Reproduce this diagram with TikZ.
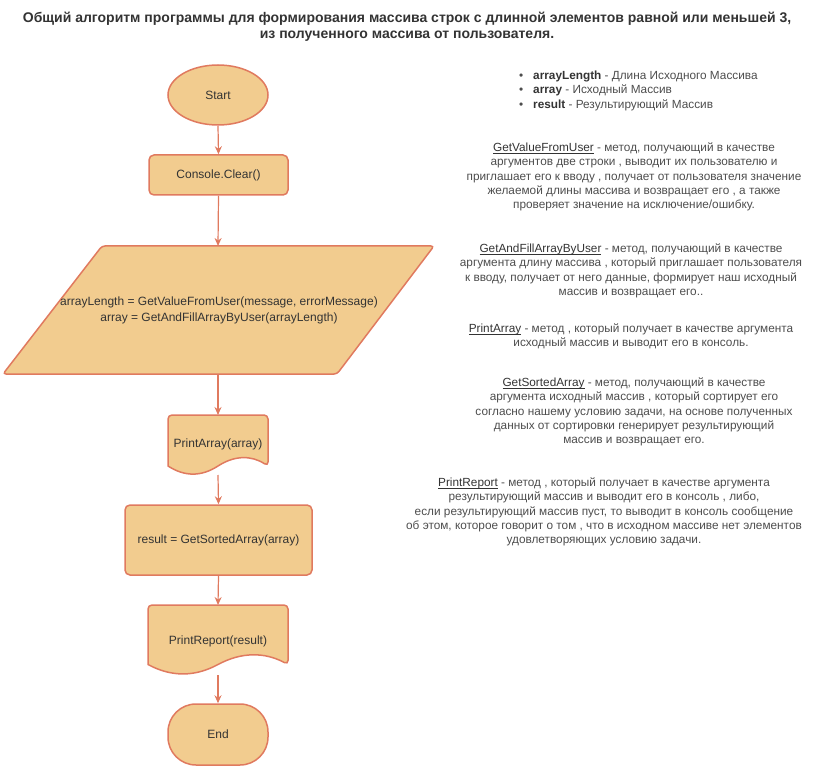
\documentclass[tikz,border=0pt]{standalone}
\usepackage{fontspec}
\setmainfont{Liberation Sans}
\usetikzlibrary{arrows.meta,shapes.geometric}
\definecolor{fc}{HTML}{F2CC8F}
\definecolor{sc}{HTML}{E07A5F}
\definecolor{tc}{HTML}{333333}
\definecolor{bc}{HTML}{4D4D4D}
\tikzset{
  shp/.style={draw=sc,fill=fc,line width=1.5pt,text=tc,font=\fontsize{12}{14.4}\selectfont,inner sep=0pt},
  conn/.style={draw=sc,line width=1.2pt,-{Stealth[length=8pt,width=7pt]}},
  desc/.style={text=bc,font=\fontsize{11.8}{14.3}\selectfont,align=center,inner sep=0pt,anchor=north},
  nm/.style={text=tc}
}
\newcommand{\mname}[1]{\textcolor{tc}{\setbox0\hbox{#1}\rlap{\rule[-1.9pt]{\wd0}{0.75pt}}\box0}}
\begin{document}
\begin{tikzpicture}[x=1pt,y=-1pt]
\useasboundingbox (0,0) rectangle (819,767);
% title
\node[text=tc,font=\bfseries\fontsize{14}{16}\selectfont,align=center,inner sep=0pt,anchor=north] (title) at (407,12)
  {Общий алгоритм программы для формирования массива строк с длинной элементов равной или меньшей 3,\\из полученного массива от пользователя.};
% flowchart
\node[shp,ellipse,minimum width=100pt,minimum height=60pt] (start) at (218,95) {Start};
\node[shp,rectangle,rounded corners=5pt,minimum width=139pt,minimum height=40pt] (clear) at (218.5,175) {Console.Clear()};
% parallelogram
\draw[shp,rounded corners=3pt] (102,246) -- (434,246) -- (337,374) -- (3,374) -- cycle;
\coordinate (par-top) at (218,246);
\coordinate (par-bot) at (218,374);
\node[text=tc,font=\fontsize{12}{16}\selectfont,align=center,inner sep=0pt] (par) at (219,310)
  {arrayLength = GetValueFromUser(message, errorMessage)\\array = GetAndFillArrayByUser(arrayLength)};
% PrintArray document
\draw[shp,rounded corners=4pt] (168,466) -- (168,415) -- (268,415) -- (268,466)
  [sharp corners] .. controls (251.33,455.2) and (234.67,455.2) .. (218,466)
  .. controls (201.33,476.8) and (184.67,476.8) .. (168,466) -- cycle;
\coordinate (pa-top) at (218,415);
\coordinate (pa-bot) at (218,475);
\node[text=tc,font=\fontsize{12}{14.4}\selectfont,inner sep=0pt] (pa) at (218,444) {PrintArray(array)};
% result
\node[shp,rectangle,rounded corners=5pt,minimum width=187pt,minimum height=70pt] (res) at (218.5,540) {result = GetSortedArray(array)};
% PrintReport document
\draw[shp,rounded corners=4pt] (148,664.5) -- (148,605) -- (288,605) -- (288,664.5)
  [sharp corners] .. controls (264.67,651.9) and (241.33,651.9) .. (218,664.5)
  .. controls (194.67,677.1) and (171.33,677.1) .. (148,664.5) -- cycle;
\coordinate (pr-top) at (218,605);
\coordinate (pr-bot) at (218,675);
\node[text=tc,font=\fontsize{12}{14.4}\selectfont,inner sep=0pt] (pr) at (218,641) {PrintReport(result)};
% End
\node[shp,rectangle,rounded corners=28pt,minimum width=100pt,minimum height=61pt] (end) at (218,734.5) {End};
% connectors
\draw[conn] (start.south) -- (clear.north);
\draw[conn] (clear.south) -- (par-top);
\draw[conn] (par-bot) -- (pa-top);
\draw[conn] (pa-bot) -- (res.north);
\draw[conn] (res.south) -- (pr-top);
\draw[conn] (pr-bot) -- (end.north);
% legend
\node[text=bc,font=\fontsize{11.8}{14.5}\selectfont,align=left,inner sep=0pt,anchor=north west] (legend) at (519,70.5)
  {\makebox[14pt][l]{•}\textbf{\textcolor{tc}{arrayLength}} - Длина Исходного Массива\\
   \makebox[14pt][l]{•}\textbf{\textcolor{tc}{array}} - Исходный Массив\\
   \makebox[14pt][l]{•}\textbf{\textcolor{tc}{result}} - Результирующий Массив};
% descriptions
\node[desc] (d1) at (634,142.5)
  {\mname{GetValueFromUser} - метод, получающий в качестве\\
   аргументов две строки , выводит их пользователю и\\
   приглашает его к вводу , получает от пользователя значение\\
   желаемой длины массива и возвращает его , а также\\
   проверяет значение на исключение/ошибку.};
\node[desc] (d2) at (631,243.5)
  {\mname{GetAndFillArrayByUser} - метод, получающий в качестве\\
   аргумента длину массива , который приглашает пользователя\\
   к вводу, получает от него данные, формирует наш исходный\\
   массив и возвращает его..};
\node[desc] (d3) at (631,323.5)
  {\mname{PrintArray} - метод , который получает в качестве аргумента\\
   исходный массив и выводит его в консоль.};
\node[desc] (d4) at (634,377.5)
  {\mname{GetSortedArray} - метод, получающий в качестве\\
   аргумента исходный массив , который сортирует его\\
   согласно нашему условию задачи, на основе полученных\\
   данных от сортировки генерирует результирующий\\
   массив и возвращает его.};
\node[desc] (d5) at (604,477.5)
  {\mname{PrintReport} - метод , который получает в качестве аргумента\\
   результирующий массив и выводит его в консоль , либо,\\
   если результирующий массив пуст, то выводит в консоль сообщение\\
   об этом, которое говорит о том , что в исходном массиве нет элементов\\
   удовлетворяющих условию задачи.};
\end{tikzpicture}
\end{document}
